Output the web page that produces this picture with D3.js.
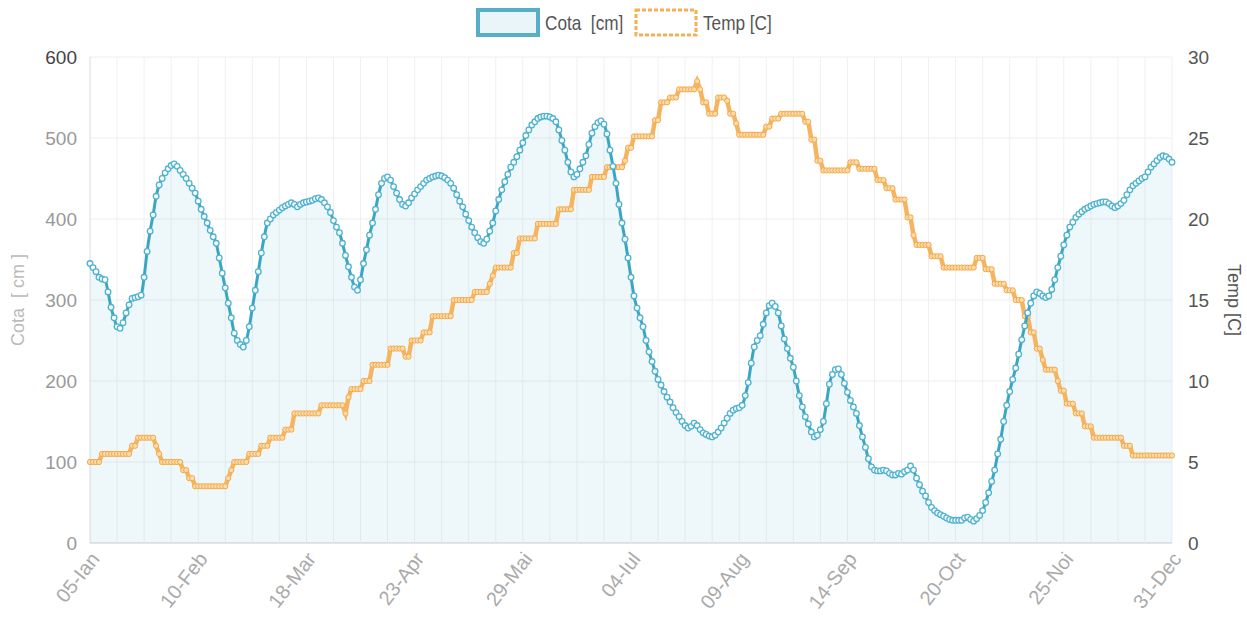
<!DOCTYPE html>
<html>
<head>
<meta charset="utf-8">
<script src="https://cdn.jsdelivr.net/npm/d3@7"></script>
<style>
  html, body { margin: 0; padding: 0; background: #fff; }
  svg { display: block; }
  text { font-family: "Liberation Sans", Arial, sans-serif; white-space: pre; }
</style>
</head>
<body>
<svg id="chart" width="1247" height="623"></svg>
<script>
// ---- data (daily, 05-Ian .. 31-Dec) ----
const tickLabels = ["05-Ian","10-Feb","18-Mar","23-Apr","29-Mai","04-Iul","09-Aug","14-Sep","20-Oct","25-Noi","31-Dec"];
const tickIndex = [0,36,72,108,144,180,216,252,288,324,360];

const cota = [
  345,340,335,328,326,325,310,291,278,267,
  265,272,284,294,302,303,304,306,328,360,
  385,405,428,442,450,457,462,466,468,465,
  460,455,450,444,438,432,422,412,403,395,
  386,378,370,352,333,315,296,278,259,250,
  245,242,250,267,290,312,335,358,378,395,
  400,405,408,411,414,416,418,420,418,415,
  418,420,421,422,423,425,426,424,420,415,
  408,398,390,383,370,355,341,328,316,312,
  325,345,362,380,395,412,430,444,450,452,
  448,440,432,424,418,416,420,426,431,436,
  440,444,448,450,452,453,454,453,451,448,
  444,438,430,422,415,406,398,390,383,377,
  372,370,375,385,395,410,424,436,446,455,
  464,470,477,485,494,503,510,516,520,524,
  526,527,527,526,524,520,510,497,485,470,
  458,452,455,462,470,478,492,506,514,519,
  521,517,505,485,465,444,418,395,375,352,
  328,305,290,278,267,250,236,224,212,202,
  195,187,180,174,167,161,156,150,145,142,
  144,148,145,140,136,134,132,131,133,137,
  142,148,154,160,164,166,167,170,182,198,
  222,242,250,256,270,284,293,296,292,284,
  268,252,240,228,217,200,182,168,156,147,
  137,131,133,140,150,172,196,208,214,215,
  208,197,186,176,168,160,145,131,118,104,
  94,90,89,89,90,89,86,84,84,86,
  85,88,90,95,90,80,72,64,58,50,
  44,40,37,35,33,31,29,28,28,28,
  28,31,32,29,27,30,34,40,50,62,
  76,90,110,128,150,170,187,202,216,233,
  251,268,284,296,305,310,308,305,303,305,
  313,325,340,354,368,380,390,396,402,406,
  409,412,414,416,418,419,420,421,421,419,
  416,414,416,419,423,430,436,441,444,447,
  450,452,458,464,468,472,476,478,477,474,
  470
];

const temp = [
  5,5,5,5,5.5,5.5,5.5,5.5,5.5,5.5,
  5.5,5.5,5.5,5.5,6,6,6.5,6.5,6.5,6.5,
  6.5,6.5,6,5.5,5,5,5,5,5,5,
  5,4.5,4.5,4,4,3.5,3.5,3.5,3.5,3.5,
  3.5,3.5,3.5,3.5,3.5,3.5,4,4.5,5,5,
  5,5,5,5.5,5.5,5.5,5.5,6,6,6,
  6.5,6.5,6.5,6.5,6.5,7,7,7,8,8,
  8,8,8,8,8,8,8,8.5,8.5,8.5,
  8.5,8.5,8.5,8.5,8.5,8,9,9.5,9.5,9.5,
  9.5,10,10,10,11,11,11,11,11,11,
  12,12,12,12,12,11.5,11.5,12.5,12.5,12.5,
  12.5,13,13,13,14,14,14,14,14,14,
  14,15,15,15,15,15,15,15,15.5,15.5,
  15.5,15.5,15.5,16,16.5,17,17,17,17,17,
  17,17.9,17.9,18.8,18.8,18.8,18.8,18.8,18.8,19.7,
  19.7,19.7,19.7,19.7,19.7,19.7,20.6,20.6,20.6,20.6,
  20.6,21.8,21.8,21.8,21.8,21.8,21.8,22.6,22.6,22.6,
  22.6,22.6,23.2,23.2,23.2,23.2,23.2,23.2,23.6,24.4,
  24.4,25.1,25.1,25.1,25.1,25.1,25.1,25.1,26.1,26.1,
  27.2,27.2,27.2,27.5,27.5,27.5,28,28,28,28,
  28,28,28.5,28,27.2,27.2,26.5,26.5,26.5,27.5,
  27.5,27.5,27.3,26.5,26.5,25.9,25.2,25.2,25.2,25.2,
  25.2,25.2,25.2,25.2,25.2,25.7,25.7,26.2,26.2,26.2,
  26.5,26.5,26.5,26.5,26.5,26.5,26.5,26.5,26,26,
  24.9,24.9,23.6,23.6,23,23,23,23,23,23,
  23,23,23,23.5,23.5,23.5,23.1,23.1,23.1,23.1,
  23.1,23.1,22.4,22.4,22.4,21.9,21.9,21.9,21.2,21.2,
  21.2,21.2,20.1,20.1,19,18.4,18.4,18.4,18.4,18.4,
  17.7,17.7,17.7,17.7,17,17,17,17,17,17,
  17,17,17,17,17,17.6,17.6,17.6,16.9,16.9,
  16.9,16,16,16,16,15.6,15.6,15.6,15,15,
  15,14,14,13,13,12,12,11.3,10.7,10.7,
  10.7,10.7,10,9.4,9.4,8.6,8.6,8.6,8,8,
  8,7.2,7.2,7.2,6.5,6.5,6.5,6.5,6.5,6.5,
  6.5,6.5,6.5,6.5,6,6,6,5.4,5.4,5.4,
  5.4,5.4,5.4,5.4,5.4,5.4,5.4,5.4,5.4,5.4,
  5.4
];

const leftTicks = [0,100,200,300,400,500,600];
const rightTicks = [0,5,10,15,20,25,30];
const seriesNames = ["Cota  [cm]", "Temp [C]"];

// ---- drawing ----
const svg = d3.select("#chart");
const L = 90, R = 1172, T = 57, B = 543;
const n = cota.length;
const x = d3.scaleLinear().domain([0, n - 1]).range([L, R]);
const yL = d3.scaleLinear().domain([0, 600]).range([B, T]);
const yR = d3.scaleLinear().domain([0, 30]).range([B, T]);

const tealLine = "#3aa6c6", tealPt = "#4fb3d0", tealFill = "rgba(90,185,210,0.10)";
const orange = "#f6b460", orangePt = "#f4a947";

// grid
const grid = svg.append("g");
grid.selectAll("line.h").data(leftTicks).join("line")
  .attr("x1", L).attr("x2", R).attr("y1", d => yL(d)).attr("y2", d => yL(d))
  .attr("stroke", d => d === 0 ? "#dcdcdc" : "#eeeeee").attr("stroke-width", d => d === 0 ? 1.5 : 1);
grid.selectAll("line.v").data(d3.range(0, n, 9)).join("line")
  .attr("x1", d => x(d)).attr("x2", d => x(d)).attr("y1", T).attr("y2", B)
  .attr("stroke", (d, i) => i === 0 ? "#dcdcdc" : "#f0f0f0").attr("stroke-width", 1);

// area fill for cota
const idx = d3.range(n);
svg.append("path").datum(idx)
  .attr("d", d3.area().x(i => x(i)).y0(yL(0)).y1(i => yL(cota[i])).curve(d3.curveMonotoneX))
  .attr("fill", tealFill);

// temp line + points
svg.append("path").datum(idx)
  .attr("d", d3.line().x(i => x(i)).y(i => yR(temp[i])))
  .attr("fill", "none").attr("stroke", orange).attr("stroke-width", 4.5);
svg.append("g").selectAll("circle").data(idx).join("circle")
  .attr("cx", i => x(i)).attr("cy", i => yR(temp[i])).attr("r", 2.6)
  .attr("fill", "#fcdcae").attr("stroke", orangePt).attr("stroke-width", 1);

// cota line + points
svg.append("path").datum(idx)
  .attr("d", d3.line().x(i => x(i)).y(i => yL(cota[i])).curve(d3.curveMonotoneX))
  .attr("fill", "none").attr("stroke", tealLine).attr("stroke-width", 3);
svg.append("g").selectAll("circle").data(idx).join("circle")
  .attr("cx", i => x(i)).attr("cy", i => yL(cota[i])).attr("r", 2.8)
  .attr("fill", "#ffffff").attr("stroke", tealPt).attr("stroke-width", 1.3);

// left axis
const ax = svg.append("g").attr("transform", `translate(${L},0)`)
  .call(d3.axisLeft(yL).tickValues(leftTicks).tickSize(0).tickPadding(13));
ax.select(".domain").remove();
ax.selectAll("text").attr("font-size", 19).attr("fill", "#999")
  .attr("font-family", "'Liberation Sans',sans-serif");
ax.selectAll("text").filter(d => d === 600).attr("fill", "#444");

// right axis
const ar = svg.append("g").attr("transform", `translate(${R},0)`)
  .call(d3.axisRight(yR).tickValues(rightTicks).tickSize(0).tickPadding(16));
ar.select(".domain").remove();
ar.selectAll("text").attr("font-size", 19).attr("fill", "#555")
  .attr("font-family", "'Liberation Sans',sans-serif");

// bottom axis (rotated labels)
const xb = svg.append("g");
xb.selectAll("text").data(tickIndex).join("text")
  .attr("transform", d => `translate(${x(d) + 5},${B + 12}) rotate(-52)`)
  .attr("text-anchor", "end").attr("dy", "0.35em")
  .attr("font-size", 20).attr("fill", "#aaa")
  .text((d, i) => tickLabels[i]);

// axis titles
svg.append("text").attr("transform", "translate(24,300) rotate(-90)")
  .attr("text-anchor", "middle").attr("font-size", 18).attr("fill", "#bbb")
  .text("Cota  [ cm ]");
svg.append("text").attr("transform", "translate(1228,300) rotate(90)")
  .attr("text-anchor", "middle").attr("font-size", 18).attr("fill", "#555")
  .text("Temp [C]");

// legend
const lg = svg.append("g");
lg.append("rect").attr("x", 478).attr("y", 10).attr("width", 60).attr("height", 25)
  .attr("fill", "#e9f5f8").attr("stroke", "#58aec6").attr("stroke-width", 4);
lg.append("text").attr("transform", "translate(545,30) scale(0.86,1)")
  .attr("font-size", 20).attr("fill", "#555").text(seriesNames[0]);
lg.append("rect").attr("x", 636).attr("y", 10).attr("width", 60).attr("height", 25)
  .attr("fill", "#fff").attr("stroke", "#f4b054").attr("stroke-width", 3).attr("stroke-dasharray", "4,2");
lg.append("text").attr("transform", "translate(703,30) scale(0.86,1)")
  .attr("font-size", 20).attr("fill", "#555").text(seriesNames[1]);
</script>
</body>
</html>
